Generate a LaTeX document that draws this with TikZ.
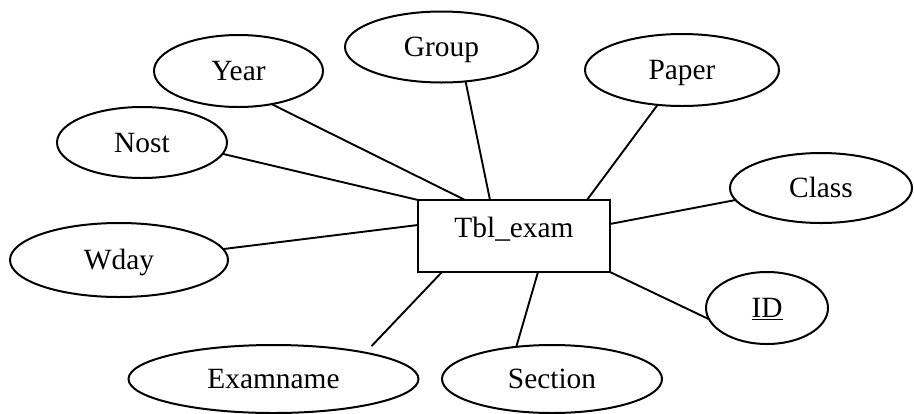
\documentclass[tikz,border=0pt]{standalone}
\usepackage{fontspec}
\setmainfont{Liberation Serif}
\usetikzlibrary{shapes.geometric,calc}
\begin{document}
\begin{tikzpicture}[x=1bp,y=-1bp,
  every node/.style={font=\fontsize{29.5}{34}\selectfont, inner sep=0pt, outer sep=0pt, line width=2bp},
  attr/.style={draw, ellipse, text height=19.5bp, text depth=0pt},
  entity/.style={draw, rectangle, minimum width=192bp, minimum height=72bp,
                 text height=19.5bp, text depth=16bp},
  link/.style={line width=1.9bp}]
\useasboundingbox (0,0) rectangle (914,413);

% entity
\node[entity] (exam) at (514,236) {Tbl\_exam};

% attributes
\node[attr, minimum width=169bp, minimum height=72bp] (year)     at (238.5,71)  {Year};
\node[attr, minimum width=193bp, minimum height=71bp] (group)    at (441.5,47)  {Group};
\node[attr, minimum width=194bp, minimum height=72bp] (paper)    at (682,70)    {Paper};
\node[attr, minimum width=170bp, minimum height=71bp] (nost)     at (142,142.5) {Nost};
\node[attr, minimum width=182bp, minimum height=70bp] (class)    at (821,188)   {Class};
\node[attr, minimum width=218bp, minimum height=74bp] (wday)     at (119,260)   {Wday};
\node[attr, minimum width=122bp, minimum height=72bp] (id)       at (767,308)   {\underline{ID}};
\node[attr, minimum width=290bp, minimum height=68bp] (examname) at (273.5,379) {Examname};
\node[attr, minimum width=220bp, minimum height=68bp] (section)  at (552,379)   {Section};

% connectors
\draw[link] (year.-45)    -- ($(exam.north west)!0.245!(exam.north east)$);
\draw[link] (group.-55)   -- ($(exam.north west)!0.375!(exam.north east)$);
\draw[link] (paper.235)   -- ($(exam.north west)!0.88!(exam.north east)$);
\draw[link] (nost.-8)     -- (exam.north west);
\draw[link] (wday.6)      -- ($(exam.north west)!0.347!(exam.south west)$);
\draw[link] (class.188)   -- ($(exam.north east)!0.333!(exam.south east)$);
\draw[link] (id.191)      -- (exam.south east);
\draw[link] (section.138) -- ($(exam.south west)!0.625!(exam.south east)$);
\draw[link, shorten <=9bp] (examname.16) -- ($(exam.south west)!0.125!(exam.south east)$);
\end{tikzpicture}
\end{document}
